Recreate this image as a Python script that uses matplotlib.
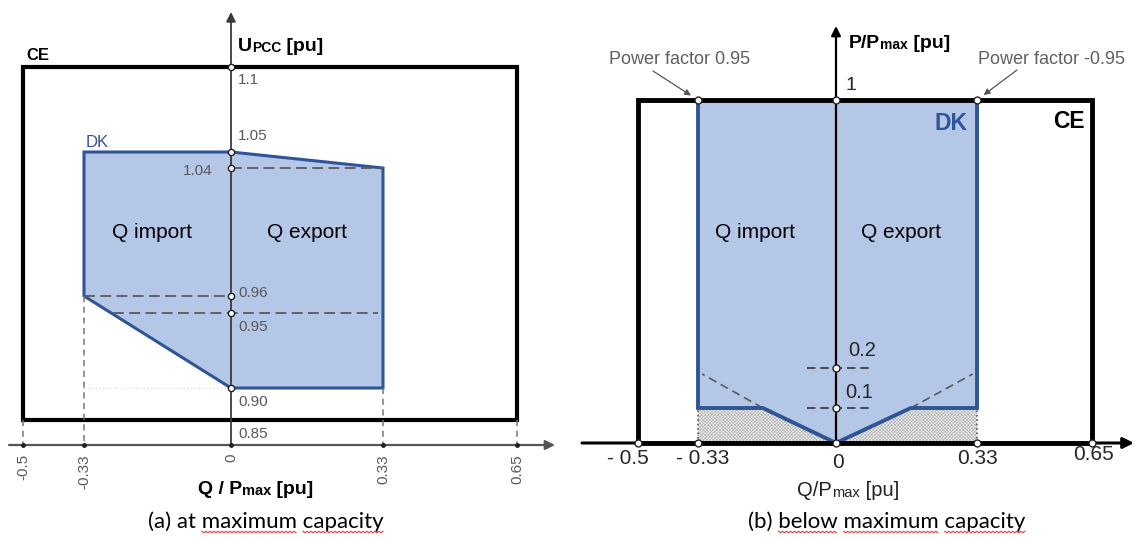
import numpy as np
import matplotlib
matplotlib.use('Agg')
import matplotlib.pyplot as plt
from matplotlib import font_manager
from matplotlib.patches import Rectangle
from matplotlib.lines import Line2D
from matplotlib.transforms import IdentityTransform

plt.rcParams['font.family'] = ['Liberation Sans', 'DejaVu Sans']
plt.rcParams['hatch.linewidth'] = 0.5

# ---------- (a) at maximum capacity ----------
a_q_ticks = [-0.5, -0.33, 0.0, 0.33, 0.65]
a_q_labels = ['-0.5', '-0.33', '0', '0.33', '0.65']
a_u_ticks = [0.85, 0.90, 0.95, 0.96, 1.04, 1.05, 1.1]
a_u_labels = ['0.85', '0.90', '0.95', '0.96', '1.04', '1.05', '1.1']
a_ce_q = [-0.5, 0.65]
a_ce_u = [0.85, 1.1]
a_dk_q = [-0.33, 0.0, 0.33, 0.33, 0.0, -0.33]
a_dk_u = [1.05, 1.05, 1.04, 0.90, 0.90, 0.96]
a_u95_q = [-0.265, 0.32]

# ---------- (b) below maximum capacity ----------
b_q_ticks = [-0.5, -0.33, 0.0, 0.33, 0.65]
b_q_labels = ['- 0.5', '- 0.33', '0', '0.33', '0.65']
b_p_ticks = [0.0, 0.1, 0.2, 1.0]
b_ce_q = [-0.5, 0.65]
b_ce_p = [0.0, 1.0]
b_dk_q = [-0.33, -0.33, -0.175, 0.0, 0.175, 0.33, 0.33]
b_dk_p = [1.0, 0.1, 0.1, 0.0, 0.1, 0.1, 1.0]
b_ext_q = [-0.32, 0.32]
b_ext_p = [0.185, 0.185]
b_tickdash_q = [-0.07, 0.08]

# ---------- layout (figure pixels) ----------
W, H = 1134, 540
A_XR = (0, 567)
B_XR = (567, 1134)
A_X_PX = [23, 84, 231, 383, 517]
A_Y_PX = [420, 388, 313, 296, 168, 152, 67]
B_X_PX = [638, 698, 836, 977, 1092]
B_Y_PX = [443, 408, 368, 100]

FILL = '#b4c7e7'
EDGE = '#2f5597'
DASH = '#5a5a5a'
GTXT = '#595959'

names = {f.name for f in font_manager.fontManager.ttflist}
NARROW = 'Liberation Sans Narrow' if 'Liberation Sans Narrow' in names else 'Liberation Sans'
NSIZE = 13 if NARROW != 'Liberation Sans' else 11
CAPFONT = 'Lato' if 'Lato' in names else 'DejaVu Sans'


def piecewise(src, dst):
    src = np.asarray(src, float)
    dst = np.asarray(dst, float)
    s0 = (dst[1] - dst[0]) / (src[1] - src[0])
    s1 = (dst[-1] - dst[-2]) / (src[-1] - src[-2])

    def f(v):
        v = np.asarray(v, float)
        out = np.interp(v, src, dst)
        out = np.where(v < src[0], dst[0] + (v - src[0]) * s0, out)
        out = np.where(v > src[-1], dst[-1] + (v - src[-1]) * s1, out)
        return out
    return f


fig = plt.figure(figsize=(W / 100, H / 100), dpi=100)


def make_panel(xr, xv, xpx, yv, ypx):
    ax = fig.add_axes([xr[0] / W, 0, (xr[1] - xr[0]) / W, 1])
    yup = [H - p for p in ypx]
    fx, ix = piecewise(xv, xpx), piecewise(xpx, xv)
    fy, iy = piecewise(yv, yup), piecewise(yup, yv)
    ax.set_xscale('function', functions=(fx, ix))
    ax.set_yscale('function', functions=(fy, iy))
    ax.set_xlim(float(ix(xr[0])), float(ix(xr[1])))
    ax.set_ylim(float(iy(0)), float(iy(H)))
    ax.axis('off')
    ax.patch.set_alpha(0)
    return ax, (lambda px: float(ix(px))), (lambda py: float(iy(H - py)))


def rich(ax, x, y, parts, **kw):
    t = ax.text(x, y, parts[0][0], fontsize=parts[0][1], ha='left', va='baseline', **kw)
    for s, fs in parts[1:]:
        t = ax.annotate(s, xy=(1, 0), xycoords=t, fontsize=fs, ha='left', va='bottom', **kw)
    return t


def arrow(ax, start, end, color, lw, ms=14):
    ax.annotate('', xy=end, xytext=start,
                arrowprops=dict(arrowstyle='-|>', color=color, lw=lw, mutation_scale=ms,
                                shrinkA=0, shrinkB=0), zorder=5)


def dots(ax, xs, ys, ms=4.5):
    ax.plot(xs, ys, 'o', ms=ms, mfc='white', mec='#222222', mew=1.0, zorder=7, clip_on=False)


# ======================= panel (a) =======================
ax, pxA, pyA = make_panel(A_XR, a_q_ticks, A_X_PX, a_u_ticks, A_Y_PX)
axis_u = pyA(445)

ax.add_patch(Rectangle((a_ce_q[0], a_ce_u[0]), a_ce_q[1] - a_ce_q[0], a_ce_u[1] - a_ce_u[0],
                       fill=False, ec='black', lw=3, joinstyle='miter', zorder=2))
ax.fill(a_dk_q, a_dk_u, facecolor=FILL, edgecolor=EDGE, lw=2.2, joinstyle='miter', zorder=3)

dk = dict(color=DASH, lw=1.3, dashes=(6, 3), zorder=4)
ax.plot([a_dk_q[5], 0], [a_dk_u[5]] * 2, **dk)
ax.plot(a_u95_q, [0.95, 0.95], **dk)
ax.plot([0, a_dk_q[2]], [a_dk_u[2]] * 2, **dk)
ax.plot([a_dk_q[5], 0], [a_dk_u[4]] * 2, color='#dddddd', lw=1, ls=':', zorder=2.5)

vd = dict(color='#777777', lw=1.1, dashes=(4, 3), zorder=4)
ax.plot([a_ce_q[0]] * 2, [a_ce_u[0], axis_u], **vd)
ax.plot([a_dk_q[5]] * 2, [a_dk_u[5], axis_u], **vd)
ax.plot([a_dk_q[3]] * 2, [a_dk_u[3], axis_u], **vd)
ax.plot([a_ce_q[1]] * 2, [a_ce_u[0], axis_u], **vd)

arrow(ax, (pxA(9), axis_u), (pxA(555), axis_u), '#555555', 1.6)
arrow(ax, (0, axis_u), (0, pyA(12)), '#3a3a3a', 1.3)

dots(ax, [0] * 6, [1.1, 1.05, 1.04, 0.96, 0.95, 0.90])
ax.plot(a_q_ticks, [axis_u] * len(a_q_ticks), 'o', ms=2.5, color='#222222', zorder=7)

a_u_off = {'0.85': (7, -14), '0.90': (7, -14), '0.95': (7, -14), '0.96': (7, 3),
           '1.04': (-18, -3), '1.05': (7, 16), '1.1': (7, -13)}
for u, lab in zip(a_u_ticks, a_u_labels):
    dx, dy = a_u_off[lab]
    ax.annotate(lab, xy=(0, u), xytext=(dx, dy), textcoords='offset pixels',
                ha='right' if dx < 0 else 'left', va='center', fontsize=NSIZE,
                family=NARROW, color=GTXT, zorder=8)
for q, lab in zip(a_q_ticks, a_q_labels):
    ax.annotate(lab, xy=(q, axis_u), xytext=(0, -9), textcoords='offset pixels',
                rotation=90, ha='center', va='top', fontsize=NSIZE, family=NARROW, color=GTXT)

ax.text(pxA(26), pyA(56), 'CE', fontsize=12, fontweight='bold', ha='left', va='center')
ax.text(pxA(86), pyA(142), 'DK', fontsize=12, color=EDGE, ha='left', va='center')
ax.text(pxA(152), pyA(232), 'Q import', fontsize=15, ha='center', va='center', zorder=8)
ax.text(pxA(307), pyA(232), 'Q export', fontsize=15, ha='center', va='center', zorder=8)
rich(ax, pxA(238), pyA(51), [('U', 14), ('PCC', 10), (' [pu]', 14)], fontweight='bold')
rich(ax, pxA(198), pyA(494), [('Q / P', 14), ('max', 10.5), (' [pu]', 14)], fontweight='bold')
cap_a = ax.text(pxA(266), pyA(522), '(a) at maximum capacity', fontsize=16,
                family=CAPFONT, ha='center', va='center')

# ======================= panel (b) =======================
bx, pxB, pyB = make_panel(B_XR, b_q_ticks, B_X_PX, b_p_ticks, B_Y_PX)

bx.fill(b_dk_q, b_dk_p, facecolor=FILL, edgecolor='none', zorder=2)
bx.fill_between(b_dk_q[1:6], 0, b_dk_p[1:6], facecolor='#f4f4f4', edgecolor='#b4b4b4',
                hatch='x' * 10, lw=0, zorder=2)
bx.plot(b_dk_q, b_dk_p, color=EDGE, lw=2.8, solid_joinstyle='miter', zorder=4)

bd = dict(color=DASH, lw=1.2, dashes=(5, 3), zorder=3)
bx.plot([b_dk_q[2], b_ext_q[0]], [b_dk_p[2], b_ext_p[0]], **bd)
bx.plot([b_dk_q[4], b_ext_q[1]], [b_dk_p[4], b_ext_p[1]], **bd)
for p in b_p_ticks[1:3]:
    bx.plot(b_tickdash_q, [p, p], color='#333333', lw=1.2, dashes=(5, 3), zorder=5)
for q in (b_dk_q[1], b_dk_q[5]):
    bx.plot([q, q], [0, b_dk_p[1]], color='#555555', lw=1.2, ls=':', zorder=3)

bx.add_patch(Rectangle((b_ce_q[0], b_ce_p[0]), b_ce_q[1] - b_ce_q[0], b_ce_p[1] - b_ce_p[0],
                       fill=False, ec='black', lw=3.5, joinstyle='miter', zorder=4))
arrow(bx, (pxB(582), 0), (pxB(1134), 0), 'black', 2.2, 16)
arrow(bx, (0, 0), (0, pyB(26)), 'black', 1.6, 14)

dots(bx, [0, b_dk_q[0], b_dk_q[-1]], [1, 1, 1], 5)
dots(bx, [0, 0], b_p_ticks[1:3], 5)
dots(bx, b_q_ticks, [0] * len(b_q_ticks), 5)

b_q_off = {'- 0.5': (-10, -15), '- 0.33': (5, -15), '0': (2, -19), '0.33': (0, -15),
           '0.65': (2, -12)}
for q, lab in zip(b_q_ticks, b_q_labels):
    dx, dy = b_q_off[lab]
    bx.annotate(lab, xy=(q, 0), xytext=(dx, dy), textcoords='offset pixels',
                ha='center', va='center', fontsize=15, color='#262626')
b_p_off = {0.1: (23, 16), 0.2: (26, 18), 1.0: (15, 15)}
for p, lab in zip(b_p_ticks[1:], ['0.1', '0.2', '1']):
    dx, dy = b_p_off[p]
    bx.annotate(lab, xy=(0, p), xytext=(dx, dy), textcoords='offset pixels',
                ha='center', va='center', fontsize=14.5 if p < 1 else 14, color='#262626')

pf = dict(textcoords='offset pixels', fontsize=13, color='#606060', ha='center', va='center')
bx.annotate('Power factor 0.95', xy=(b_dk_q[0], 1), xytext=(-18, 41), **pf)
bx.annotate('Power factor -0.95', xy=(b_dk_q[-1], 1), xytext=(75, 41), **pf)
pa = dict(arrowstyle='-|>', color='#555555', lw=0.9, mutation_scale=9, shrinkA=0, shrinkB=6)
bx.annotate('', xy=(b_dk_q[0], 1), xytext=(-45, 29), textcoords='offset pixels', arrowprops=pa)
bx.annotate('', xy=(b_dk_q[-1], 1), xytext=(40, 30), textcoords='offset pixels', arrowprops=pa)

bx.annotate('DK', xy=(b_dk_q[-1], 1), xytext=(-26, -23), textcoords='offset pixels',
            ha='center', va='center', fontsize=16.5, fontweight='bold', color=EDGE)
bx.annotate('CE', xy=(b_ce_q[1], 1), xytext=(-23, -21), textcoords='offset pixels',
            ha='center', va='center', fontsize=16.5, fontweight='bold', color='black')
bx.text(pxB(755), pyB(232), 'Q import', fontsize=15, ha='center', va='center', zorder=8)
bx.text(pxB(901), pyB(232), 'Q export', fontsize=15, ha='center', va='center', zorder=8)
rich(bx, pxB(849), pyB(48), [('P/P', 14), ('max', 10), (' [pu]', 14)], fontweight='bold')
rich(bx, pxB(797), pyB(496), [('Q/P', 14.5), ('max', 10.5), (' [pu]', 14.5)], color='#222222')
cap_b = bx.text(pxB(887), pyB(522), '(b) below maximum capacity', fontsize=16,
                family=CAPFONT, ha='center', va='center')

# spell-check style red wavy underlines under the caption words
fig.canvas.draw()
rend = fig.canvas.get_renderer()
for t, words in ((cap_a, ['maximum', 'capacity']), (cap_b, ['below', 'maximum', 'capacity'])):
    s = t.get_text()
    bb = t.get_window_extent(rend)
    prop = t.get_fontproperties()
    for w in words:
        i = s.index(w)
        x0 = bb.x0 + rend.get_text_width_height_descent(s[:i], prop, False)[0]
        x1 = x0 + rend.get_text_width_height_descent(w, prop, False)[0]
        xs = np.arange(x0, x1, 2.0)
        ys = bb.y0 + 1 - 1.5 * (np.arange(len(xs)) % 2)
        fig.add_artist(Line2D(xs, ys, transform=IdentityTransform(), color='#e05050', lw=0.9))

fig.savefig('out.png', dpi=100)
